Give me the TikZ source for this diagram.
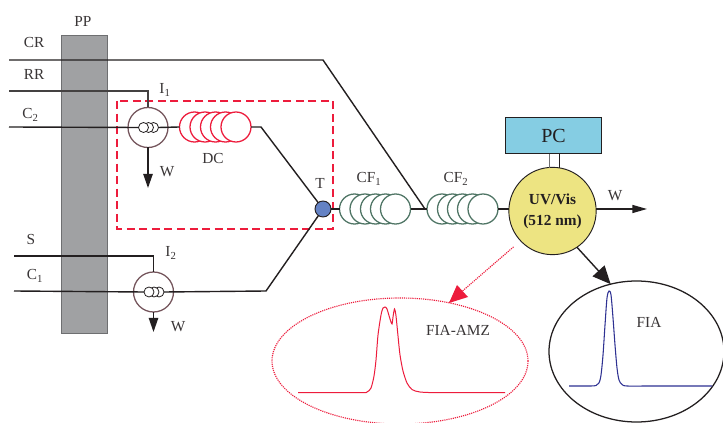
\documentclass[tikz,border=0pt]{standalone}
\usepackage{fontspec}
\setmainfont{Liberation Serif}
\usetikzlibrary{arrows.meta,shapes.geometric}
\definecolor{ppgray}{HTML}{A0A1A3}
\definecolor{ppedge}{HTML}{6E6F71}
\definecolor{ink}{HTML}{231F20}
\definecolor{redline}{HTML}{ED1C3C}
\definecolor{coilgreen}{HTML}{4F7565}
\definecolor{valvebrown}{HTML}{75555C}
\definecolor{tblue}{HTML}{6482C4}
\definecolor{pcblue}{HTML}{85CDE3}
\definecolor{uvyellow}{HTML}{EDE482}
\definecolor{peakblue}{HTML}{2E3192}
\tikzset{
  x=0.75pt,y=-0.75pt,
  lbl/.style={inner sep=0pt,font=\fontsize{11.5pt}{13pt}\selectfont,text=ink!90},
  tube/.style={draw=ink,line width=1.05pt},
  tubethin/.style={draw=ink,line width=0.85pt},
  coil/.style={circle,draw=#1,fill=white,line width=0.95pt,minimum size=22.5pt,inner sep=0pt,outer sep=0pt},
  smallcoil/.style={circle,draw=ink,fill=white,line width=0.6pt,minimum size=7.5pt,inner sep=0pt,outer sep=0pt},
  valve/.style={circle,draw=valvebrown,line width=0.95pt,minimum size=30pt,inner sep=0pt,outer sep=0pt},
  wasteflow/.style={draw=ink,line width=1.05pt,-{Triangle[length=10.5pt,width=7pt]}},
}
\begin{document}
\begin{tikzpicture}
\clip (0,0) rectangle (723,423);
\fill[white] (0,0) rectangle (723,423);

% pump
\node[draw=ppedge,fill=ppgray,line width=0.7pt,minimum width=34.5pt,minimum height=223.5pt,inner sep=0pt,outer sep=0pt] (PP) at (84,184) {};
\node[lbl] (PPl) at (83,21) {PP};

% dashed frame
\draw[redline,line width=1.2pt,dash pattern=on 6pt off 3.4pt] (117,101) rectangle (333,229);

% free ends
\coordinate (CRs) at (9,60);
\coordinate (CRb) at (323,60);
\coordinate (RRs) at (9,91);
\coordinate (C2s) at (9,127);
\coordinate (Ss) at (14,256);
\coordinate (C1s) at (14,291);
\coordinate (bendA) at (261,127);
\coordinate (bendB) at (266,291);
\coordinate (join) at (425,209);
\coordinate (I1w) at (148,188);
\coordinate (I2w) at (153.5,332);
\coordinate (UVw) at (647,209);

% valves
\node[valve] (I1) at (148,127.5) {};
\node[valve] (I2) at (153.5,292) {};

% small coils in the valves
\foreach \n/\cx in {3/153.5,2/148.5,1/143.5}
  \node[smallcoil] (ia\n) at (\cx,127.5) {};
\foreach \n/\cx in {3/159,2/154,1/149}
  \node[smallcoil] (ib\n) at (\cx,292) {};

% coils
\foreach \n/\cx in {1/194.5,2/205,3/215.5,4/225.5,5/236}
  \node[coil=redline] (dc\n) at (\cx,127) {};
\foreach \n/\cx in {1/354.5,2/365,3/375.5,4/385.5,5/395.5}
  \node[coil=coilgreen] (cfa\n) at (\cx,209) {};
\foreach \n/\cx in {1/442,2/452.5,3/462.5,4/472.5,5/483}
  \node[coil=coilgreen] (cfb\n) at (\cx,209) {};

% tee, detector, computer
\node[circle,draw=ink,fill=tblue,line width=0.7pt,minimum size=12pt,inner sep=0pt,outer sep=0pt] (T) at (323,209) {};
\node[rectangle,draw=ink,fill=pcblue,line width=0.7pt,minimum width=71.5pt,minimum height=27.5pt,inner sep=0pt,outer sep=0pt,font=\fontsize{15pt}{17pt}\selectfont,text=ink] (PC) at (553.5,135.5) {PC};
\node[circle,draw=ink,fill=uvyellow,line width=0.7pt,minimum size=65.5pt,inner sep=0pt,outer sep=0pt,align=center,font=\fontsize{11.5pt}{15.5pt}\selectfont\bfseries,text=ink] (UV) at (552.5,211) {UV/Vis\\(512 nm)};

% computer link
\draw[draw=ppedge,line width=0.7pt] (PC.south -| 549,0) -- (549,168);
\draw[draw=ink,line width=0.7pt] (PC.south -| 559,0) -- (559,168);

% connectors
\draw[tube] (CRs) -- (CRb) -- (join);
\draw[tube,draw=ink!85] (RRs) -| (I1.north);
\draw[tube] (C2s) -- (ia1.west);
\draw[tube] (ia3.east) -- (dc1.west);
\draw[tube] (dc5.east) -- (bendA) -- (T);
\draw[tube] (Ss) -| (I2.north);
\draw[tube] (C1s) -- (ib1.west);
\draw[tube] (ib3.east) -- (bendB) -- (T);
\draw[tube] (T) -- (cfa1.west);
\draw[tube] (cfa5.east) -- (cfb1.west);
\draw[tube] (cfb5.east) -- (UV.west |- cfb5.east);
\draw[wasteflow] (I1.south) -- (I1w);
\draw[wasteflow] (I2.south) -- (I2w);
\draw[draw=ink,line width=1.05pt,-{Triangle[length=11pt,width=6pt]}] (UV.east |- UVw) -- (UVw);

% result ellipses
\node[ellipse,draw=redline,line width=0.85pt,dash pattern=on 0.85pt off 0.75pt,minimum width=192pt,minimum height=94.5pt,inner sep=0pt,outer sep=0pt] (AMZ) at (400,361) {};
\node[ellipse,draw=ink,line width=0.95pt,minimum width=131.25pt,minimum height=105.75pt,inner sep=0pt,outer sep=0pt] (FIA) at (636.5,351.5) {};

% arrows to the results
\draw[draw=redline,line width=0.85pt,dash pattern=on 0.85pt off 0.75pt,shorten <=7pt] (UV.223) -- (AMZ.50);
\fill[redline] (449,303) -- (457,285) -- (468,297) -- cycle;
\draw[draw=ink,line width=1.05pt,-{Triangle[length=13.5pt,width=12pt]}] (UV.-56) -- (FIA.111);

% peaks
\draw[redline,line width=0.75pt] plot[smooth,tension=0.45] coordinates {(298,392.7) (360,392.7) (367,392) (371,388) (374,376) (376,360) (378,335) (381,315) (383,308) (385,307) (387,309) (390,319) (392,324) (393,317) (394.5,309) (396,316) (398,336) (400,355) (403,371) (407,383) (412,389.5) (420,392) (440,392.7) (505,392.7)};
\draw[peakblue,line width=0.8pt] plot[smooth,tension=0.5] coordinates {(569,386) (590,386) (596,385.5) (599,383) (601,375) (603,355) (605,325) (607,298) (609,291) (611,295) (613,318) (615,345) (617,368) (619,380) (622,384.5) (627,386) (650,386) (712,386)};

% labels
\node[lbl] (CRl) at (34,43) {CR};
\node[lbl] (RRl) at (34,74) {RR};
\node[lbl] (C2l) at (30.5,115) {C\textsubscript{2}};
\node[lbl] (I1l) at (165,90) {I\textsubscript{1}};
\node[lbl] (DCl) at (213,159) {DC};
\node[lbl] (W1l) at (167,172) {W};
\node[lbl] (Sl) at (31,240) {S};
\node[lbl] (C1l) at (35,276) {C\textsubscript{1}};
\node[lbl] (I2l) at (171,253) {I\textsubscript{2}};
\node[lbl] (W2l) at (178,327) {W};
\node[lbl] (Tl) at (320,183) {T};
\node[lbl] (CF1l) at (369,179) {CF\textsubscript{1}};
\node[lbl] (CF2l) at (456,179) {CF\textsubscript{2}};
\node[lbl] (W3l) at (615,196) {W};
\node[lbl] (AMZl) at (458,330) {FIA-AMZ};
\node[lbl] (FIAl) at (649,322) {FIA};
\end{tikzpicture}
\end{document}
